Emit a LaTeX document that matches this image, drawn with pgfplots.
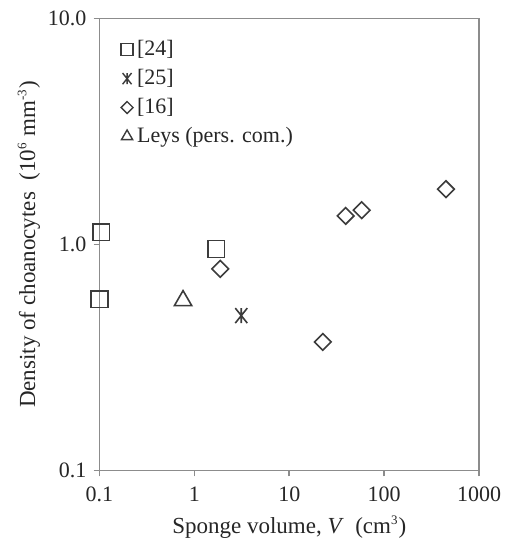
\documentclass[border=0pt]{standalone}
\usepackage{fontspec}
\setmainfont{Liberation Serif}
\usepackage{pgfplots}
\pgfplotsset{compat=1.18}
\definecolor{axisgray}{HTML}{8C8C8C}
\definecolor{markgray}{HTML}{3C3C3C}
% Excel-like star: vertical bar plus a cross
\pgfdeclareplotmark{xstar}{%
  \pgfpathmoveto{\pgfqpoint{0pt}{-\pgfplotmarksize}}%
  \pgfpathlineto{\pgfqpoint{0pt}{\pgfplotmarksize}}%
  \pgfpathmoveto{\pgfqpoint{-.8\pgfplotmarksize}{-\pgfplotmarksize}}%
  \pgfpathlineto{\pgfqpoint{.8\pgfplotmarksize}{\pgfplotmarksize}}%
  \pgfpathmoveto{\pgfqpoint{-.8\pgfplotmarksize}{\pgfplotmarksize}}%
  \pgfpathlineto{\pgfqpoint{.8\pgfplotmarksize}{-\pgfplotmarksize}}%
  \pgfusepathqstroke}
\newcommand{\sups}[1]{\textsuperscript{\fontsize{6.5}{7}\selectfont #1}}

\begin{document}
\begin{tikzpicture}
\begin{axis}[
  scale only axis, width=189.75pt, height=225.9pt,
  xmode=log, ymode=log,
  xmin=0.1, xmax=1000, ymin=0.1, ymax=10,
  xtick={0.1,1,10,100,1000}, xticklabels={0.1,1,10,100,1000},
  ytick={0.1,1,10}, yticklabels={0.1,1.0,10.0},
  xminorticks=false, yminorticks=false,
  tick pos=left, tick align=outside, major tick length=3pt,
  axis line style={axisgray, line width=0.8pt},
  every tick/.style={axisgray, line width=0.8pt},
  /pgf/number format/assume math mode=true,
  tick label style={font=\fontsize{11}{13}\selectfont, black!85},
  xticklabel style={yshift=-1.5pt},
  label style={font=\fontsize{11.5}{13}\selectfont, black!85},
  xlabel={Sponge volume, \textit{V}\ \ (cm\sups{3})},
  ylabel={Density of choanocytes\ \ (10\sups{6} mm\sups{-3})},
  xlabel style={at={(axis description cs:0.5,0)}, anchor=center, yshift=-28.25pt},
  ylabel style={at={(axis description cs:-0.186,0.5)}, anchor=center},
  legend style={draw=none, fill=none, font=\fontsize{11}{13}\selectfont,
    at={(axis description cs:0.04,0.97)}, anchor=north west,
    row sep=1.3pt, text=black!85},
  legend cell align=left,
  legend image code/.code={\draw[#1] plot coordinates {(0pt,0pt)};},
]
\coordinate (sw) at (rel axis cs:0,0);
\coordinate (ne) at (rel axis cs:1,1);

% legend images (smaller than the plotted marks)
\addlegendimage{only marks, mark=square, mark size=3pt, markgray, line width=0.7pt}
\addlegendentry{[24]}
\addlegendimage{only marks, mark=xstar, mark size=2.8pt, markgray, line width=0.7pt}
\addlegendentry{[25]}
\addlegendimage{only marks, mark=square, mark size=2.1pt, mark options={rotate=45}, markgray, line width=0.7pt}
\addlegendentry{[16]}
\addlegendimage{only marks, mark=triangle, mark size=3.2pt, markgray, line width=0.7pt}
\addlegendentry{Leys (pers. com.)}

% [24]
\addplot[only marks, mark=square, mark size=4.2pt, markgray, line width=0.8pt, forget plot]
  coordinates {(0.104,1.135) (0.1,0.573) (1.70,0.957)};
% [25]
\addplot[only marks, mark=xstar, mark size=3.75pt, markgray, line width=0.8pt, forget plot]
  coordinates {(3.12,0.485)};
% [16]
\addplot[only marks, mark=square, mark size=2.95pt, mark options={rotate=45}, markgray, line width=0.8pt, forget plot]
  coordinates {(1.875,0.781) (22.6,0.371) (39.3,1.34) (58,1.42) (448,1.76)};
% Leys (pers. com.)
\addplot[only marks, mark=triangle, mark size=5pt, markgray, line width=0.8pt, forget plot]
  coordinates {(0.76,0.565)};
\end{axis}
\path ([shift={(-49.75pt,-39.75pt)}]sw) rectangle ([shift={(12pt,9.35pt)}]ne);
\end{tikzpicture}
\end{document}
